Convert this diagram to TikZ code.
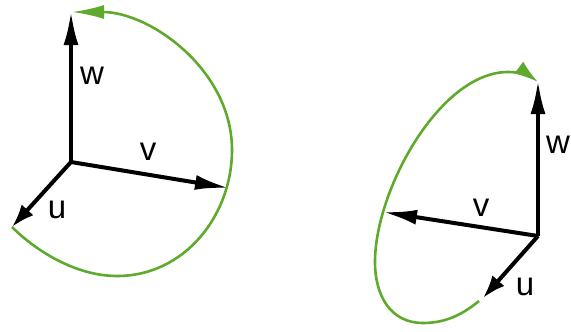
\documentclass[tikz,border=0pt]{standalone}
\usepackage{fontspec}
\setmainfont{Liberation Sans}
\usetikzlibrary{arrows.meta}
\definecolor{grn}{RGB}{95,170,45}
\tikzset{
  vec/.style={line width=4pt,-{Latex[length=34pt,width=15pt]}},
  vecshort/.style={line width=4pt,-{Latex[length=23pt,width=16pt]}},
  loopc/.style={grn,line width=2.6pt,-{Latex[length=32pt,width=14pt]}},
  loopd/.style={grn,line width=2.6pt,-{Latex[length=24pt,width=15pt]}},
  lbl/.style={font=\fontsize{33}{33}\selectfont,inner sep=0pt}
}
\begin{document}
\begin{tikzpicture}[x=1pt,y=-1pt]
\useasboundingbox (0,0) rectangle (571,332);
% left
\coordinate (o1) at (71,162);
\coordinate (w1) at (71,11);
\coordinate (v1) at (229,188);
\coordinate (u1) at (12,227);
\draw[vec] (o1) -- (w1);
\draw[vec] (o1) -- (v1);
\draw[vecshort] (o1) -- (u1);
\draw[loopc] (u1) .. controls (35,250) and (75,276) .. (117,276)
  .. controls (185,276) and (232,215) .. (232,150)
  .. controls (232,70) and (150,12) .. (72,12);
\node[lbl] (lw1) at (92,76) {w};
\node[lbl] (lv1) at (148,152) {v};
\node[lbl] (lu1) at (57,210) {u};
% right
\coordinate (o2) at (538,236);
\coordinate (w2) at (538,80);
\coordinate (v2) at (383,212);
\coordinate (u2) at (483,298);
\draw[vec] (o2) -- (w2);
\draw[vec] (o2) -- (v2);
\draw[vecshort] (o2) -- (u2);
\draw[loopd] (479,301) .. controls (462,315) and (445,323) .. (423,323)
  .. controls (390,323) and (375,295) .. (375,262)
  .. controls (375,190) and (440,72) .. (508,72)
  .. controls (520,72) and (530,76) .. (538,82);
\node[lbl] (lw2) at (558,145) {w};
\node[lbl] (lv2) at (481,208) {v};
\node[lbl] (lu2) at (525,287) {u};
\end{tikzpicture}
\end{document}
